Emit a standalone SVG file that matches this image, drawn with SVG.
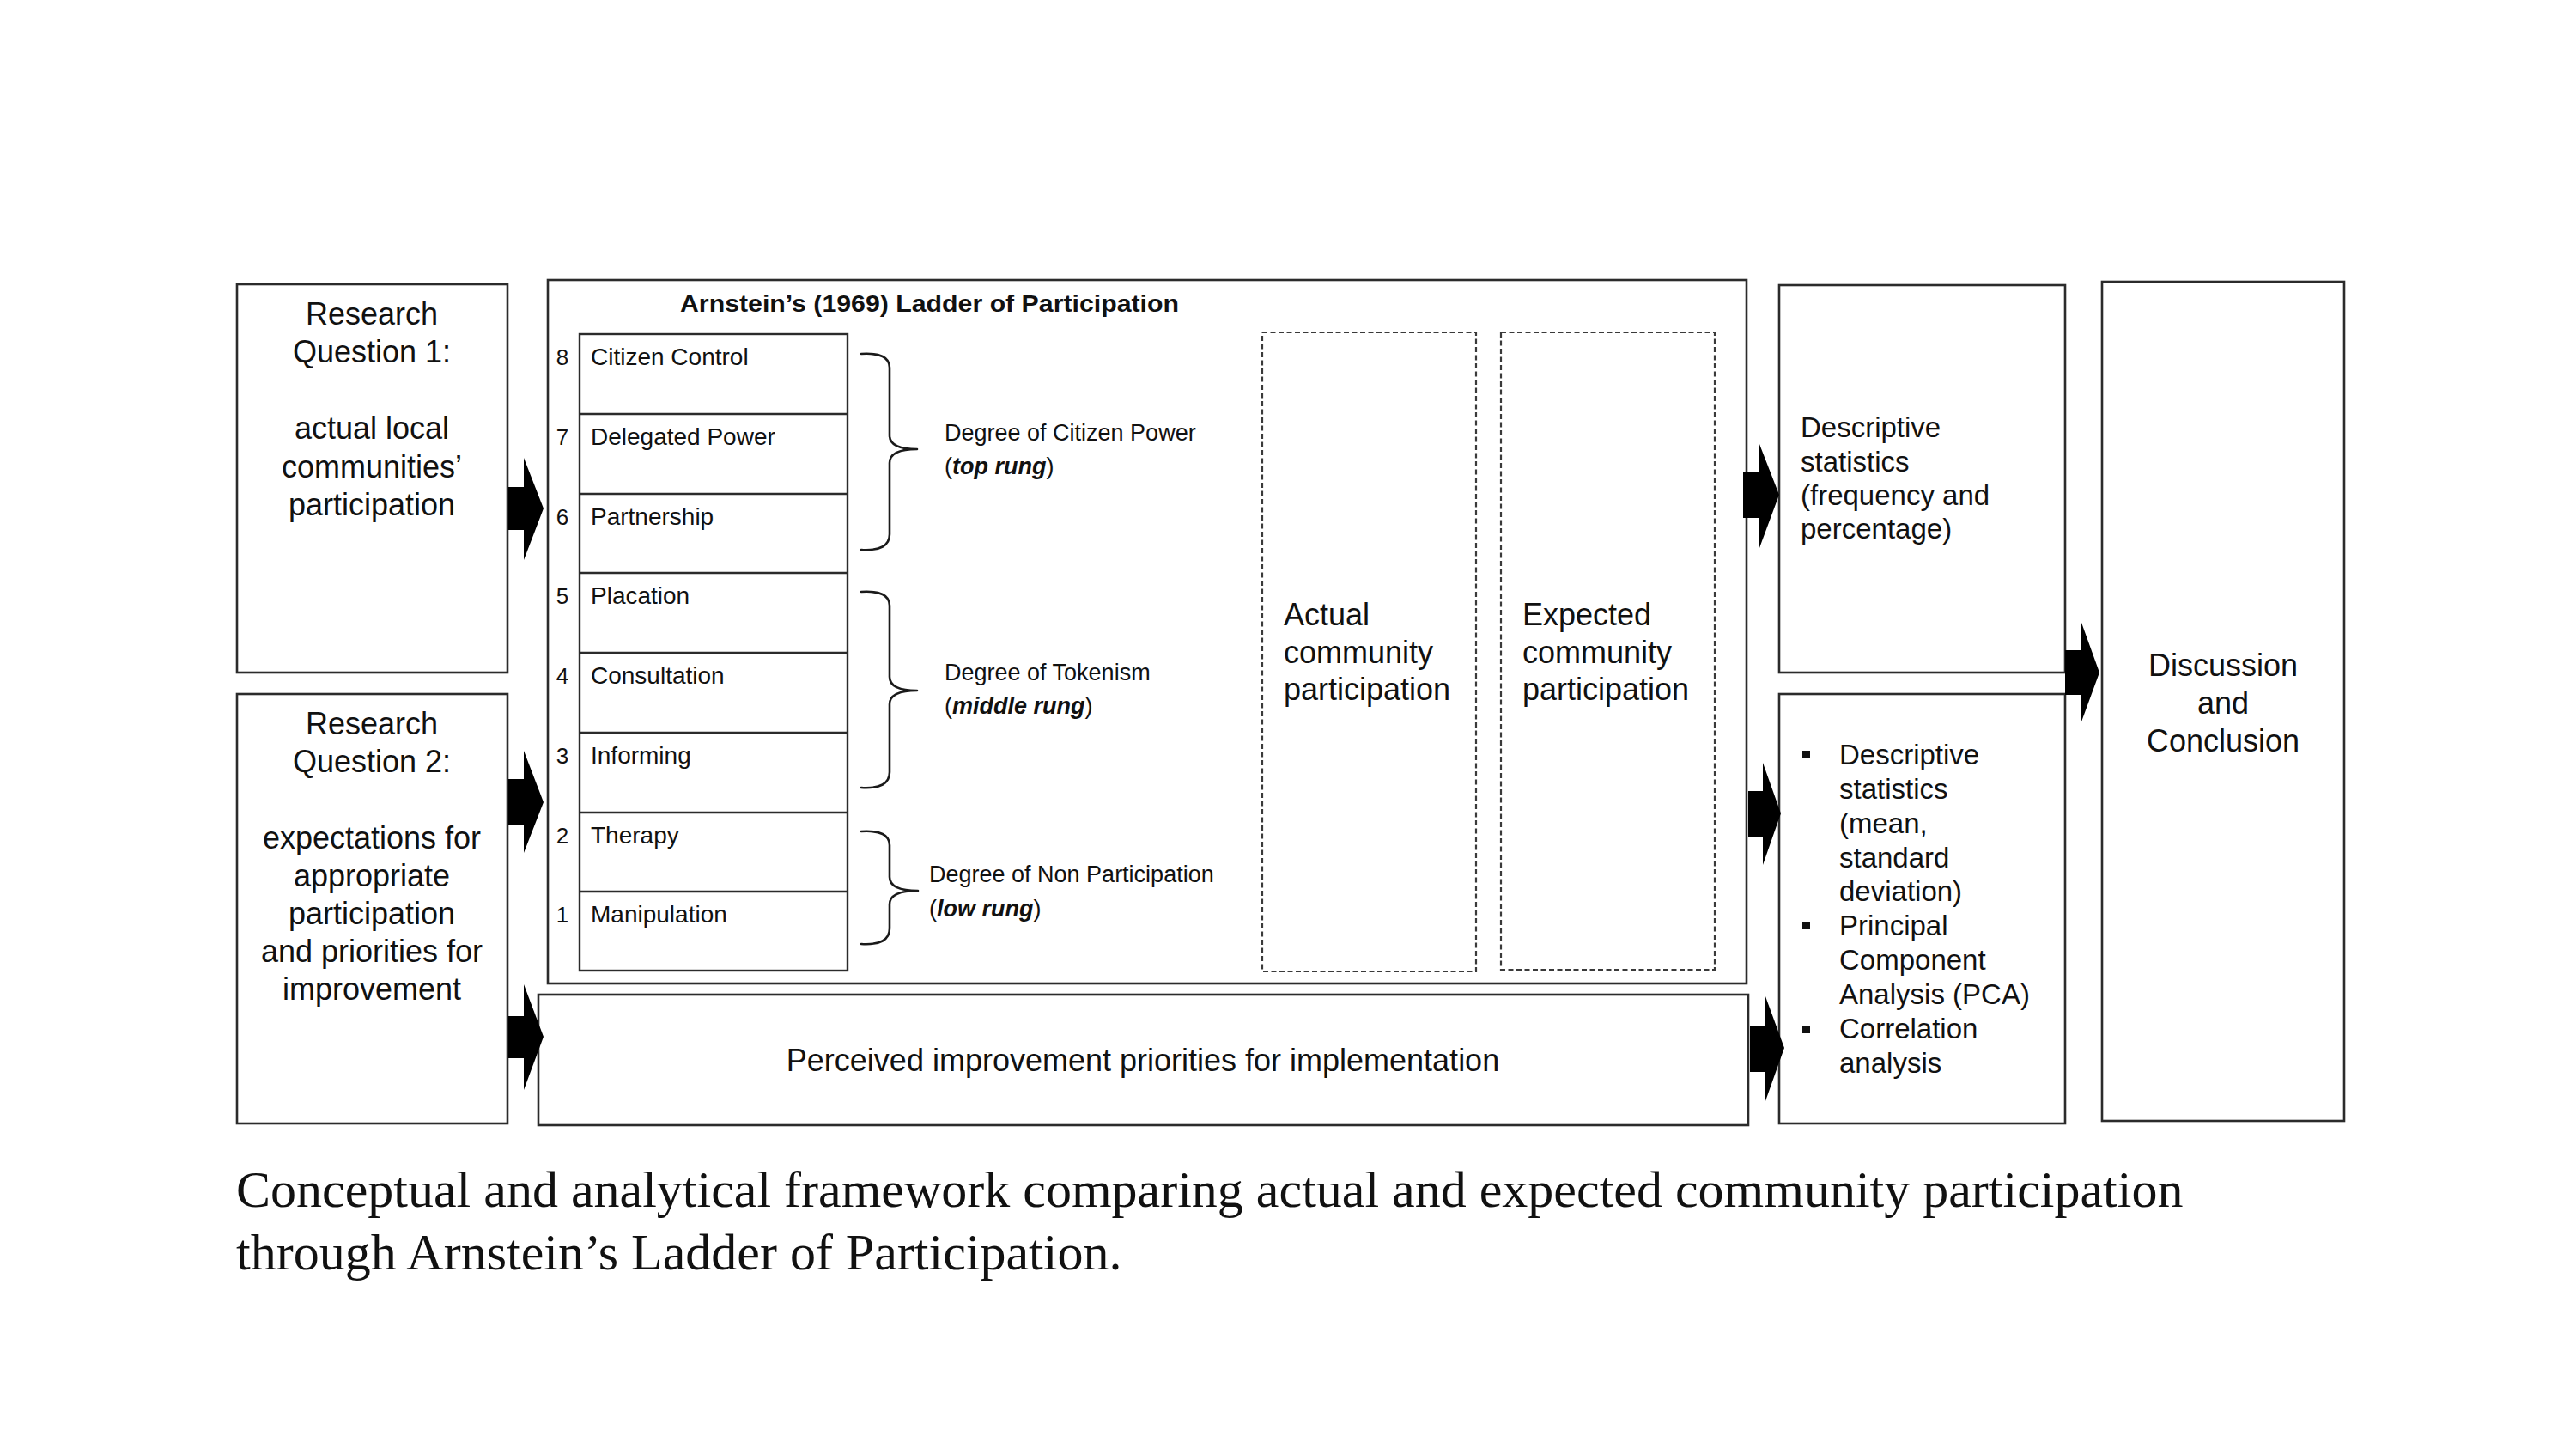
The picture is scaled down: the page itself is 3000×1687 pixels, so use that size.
<svg xmlns="http://www.w3.org/2000/svg" width="3000" height="1687" viewBox="0 0 3000 1687">
<style>
.box{fill:#fff;stroke:#2b2b2b;stroke-width:2.6}
.rung{fill:none;stroke:#2b2b2b;stroke-width:2.4}
.dash{fill:none;stroke:#3a3a3a;stroke-width:2.2;stroke-dasharray:6 3.5}
.brace{fill:none;stroke:#1a1a1a;stroke-width:2.6;stroke-linejoin:round;stroke-linecap:round}
.arr{fill:#000}
.t36{font-family:"Liberation Sans",Arial,sans-serif;font-size:36px;fill:#111}
.t33{font-family:"Liberation Sans",Arial,sans-serif;font-size:33px;fill:#111}
.t28{font-family:"Liberation Sans",Arial,sans-serif;font-size:28px;fill:#111}
.t27{font-family:"Liberation Sans",Arial,sans-serif;font-size:27px;fill:#111}
.num{font-family:"Liberation Sans",Arial,sans-serif;font-size:26px;fill:#111;text-anchor:middle}
.title{font-family:"Liberation Sans",Arial,sans-serif;font-size:28px;font-weight:bold;fill:#111}
.bi{font-weight:bold;font-style:italic}
.mid{text-anchor:middle}
.cap{font-family:"Liberation Serif","Times New Roman",serif;font-size:60px;fill:#111}
</style>
<rect width="3000" height="1687" fill="#fff"/>

<g id="rq1">
<rect class="box" x="276" y="331" width="315" height="452"/>
<text class="t36 mid" x="433" y="378">Research</text>
<text class="t36 mid" x="433" y="422">Question 1:</text>
<text class="t36 mid" x="433" y="511">actual local</text>
<text class="t36 mid" x="433" y="556">communities’</text>
<text class="t36 mid" x="433" y="600">participation</text>
</g>

<g id="rq2">
<rect class="box" x="276" y="808" width="315" height="500"/>
<text class="t36 mid" x="433" y="855">Research</text>
<text class="t36 mid" x="433" y="899">Question 2:</text>
<text class="t36 mid" x="433" y="988">expectations for</text>
<text class="t36 mid" x="433" y="1032">appropriate</text>
<text class="t36 mid" x="433" y="1076">participation</text>
<text class="t36 mid" x="433" y="1120">and priorities for</text>
<text class="t36 mid" x="433" y="1164">improvement</text>
</g>

<g id="ladder">
<rect class="box" x="638" y="326" width="1396" height="819"/>
<text class="title" x="792" y="363" textLength="581" lengthAdjust="spacingAndGlyphs">Arnstein’s (1969) Ladder of Participation</text>
<g id="rungs">
<rect class="rung" x="675" y="389" width="312" height="741"/>
<path class="rung" d="M675,482H987M675,575H987M675,667H987M675,760H987M675,853H987M675,946H987M675,1038H987"/>
<text class="num" x="655" y="425">8</text><text class="t28" x="688" y="425">Citizen Control</text>
<text class="num" x="655" y="518">7</text><text class="t28" x="688" y="518">Delegated Power</text>
<text class="num" x="655" y="611">6</text><text class="t28" x="688" y="611">Partnership</text>
<text class="num" x="655" y="703">5</text><text class="t28" x="688" y="703">Placation</text>
<text class="num" x="655" y="796">4</text><text class="t28" x="688" y="796">Consultation</text>
<text class="num" x="655" y="889">3</text><text class="t28" x="688" y="889">Informing</text>
<text class="num" x="655" y="982">2</text><text class="t28" x="688" y="982">Therapy</text>
<text class="num" x="655" y="1074">1</text><text class="t28" x="688" y="1074">Manipulation</text>
</g>
<g id="braces">
<path class="brace" d="M1003,412Q1036,410 1036,428L1036,507Q1036,523 1068,523Q1036,523 1036,539L1036,622Q1036,642 1003,640"/>
<path class="brace" d="M1003,689Q1036,687 1036,705L1036,788Q1036,804 1068,804Q1036,804 1036,820L1036,899Q1036,919 1003,917"/>
<path class="brace" d="M1003,968Q1036,966 1036,984L1036,1021Q1036,1037 1069,1037Q1036,1037 1036,1053L1036,1081Q1036,1101 1003,1099"/>
</g>
<text class="t27" x="1100" y="513">Degree of Citizen Power</text>
<text class="t27" x="1100" y="552">(<tspan class="bi">top rung</tspan>)</text>
<text class="t27" x="1100" y="792">Degree of Tokenism</text>
<text class="t27" x="1100" y="831">(<tspan class="bi">middle rung</tspan>)</text>
<text class="t27" x="1082" y="1027">Degree of Non Participation</text>
<text class="t27" x="1082" y="1067">(<tspan class="bi">low rung</tspan>)</text>
<g id="actual">
<rect class="dash" x="1470" y="387" width="249" height="744"/>
<text class="t36" x="1495" y="728">Actual</text>
<text class="t36" x="1495" y="772">community</text>
<text class="t36" x="1495" y="815">participation</text>
</g>
<g id="expected">
<rect class="dash" x="1748" y="387" width="249" height="742"/>
<text class="t36" x="1773" y="728">Expected</text>
<text class="t36" x="1773" y="772">community</text>
<text class="t36" x="1773" y="815">participation</text>
</g>
</g>

<g id="perceived">
<rect class="box" x="627" y="1158" width="1409" height="152"/>
<text class="t36 mid" x="1331" y="1247">Perceived improvement priorities for implementation</text>
</g>

<g id="desc1">
<rect class="box" x="2072" y="332" width="333" height="451"/>
<text class="t33" x="2097" y="509">Descriptive</text>
<text class="t33" x="2097" y="549">statistics</text>
<text class="t33" x="2097" y="588">(frequency and</text>
<text class="t33" x="2097" y="627">percentage)</text>
</g>

<g id="desc2">
<rect class="box" x="2072" y="808" width="333" height="500"/>
<rect x="2099" y="874" width="9" height="9" fill="#111"/>
<rect x="2099" y="1073" width="9" height="9" fill="#111"/>
<rect x="2099" y="1194" width="9" height="9" fill="#111"/>
<text class="t33" x="2142" y="890">Descriptive</text>
<text class="t33" x="2142" y="930">statistics</text>
<text class="t33" x="2142" y="970">(mean,</text>
<text class="t33" x="2142" y="1010">standard</text>
<text class="t33" x="2142" y="1049">deviation)</text>
<text class="t33" x="2142" y="1089">Principal</text>
<text class="t33" x="2142" y="1129">Component</text>
<text class="t33" x="2142" y="1169">Analysis (PCA)</text>
<text class="t33" x="2142" y="1209">Correlation</text>
<text class="t33" x="2142" y="1249">analysis</text>
</g>

<g id="discussion">
<rect class="box" x="2448" y="328" width="282" height="977"/>
<text class="t36 mid" x="2589" y="787">Discussion</text>
<text class="t36 mid" x="2589" y="831">and</text>
<text class="t36 mid" x="2589" y="875">Conclusion</text>
</g>

<g id="connectors">
<polygon class="arr" points="592,567 610,567 610,533 633,592 610,652 610,617 592,617"/>
<polygon class="arr" points="592,907 610,907 610,874 633,934 610,993 610,960 592,960"/>
<polygon class="arr" points="592,1183 610,1183 610,1146 633,1207 610,1269 610,1232 592,1232"/>
<polygon class="arr" points="2030,550 2049,550 2049,517 2072,576 2049,638 2049,603 2030,603"/>
<polygon class="arr" points="2036,921 2053,921 2053,888 2074,947 2053,1007 2053,974 2036,974"/>
<polygon class="arr" points="2038,1195 2056,1195 2056,1160 2078,1220 2056,1282 2056,1248 2038,1248"/>
<polygon class="arr" points="2405,757 2423,757 2423,722 2445,783 2423,843 2423,809 2405,809"/>
</g>

<g id="caption">
<text class="cap" x="275" y="1405">Conceptual and analytical framework comparing actual and expected community participation</text>
<text class="cap" x="275" y="1478">through Arnstein’s Ladder of Participation.</text>
</g>
</svg>
